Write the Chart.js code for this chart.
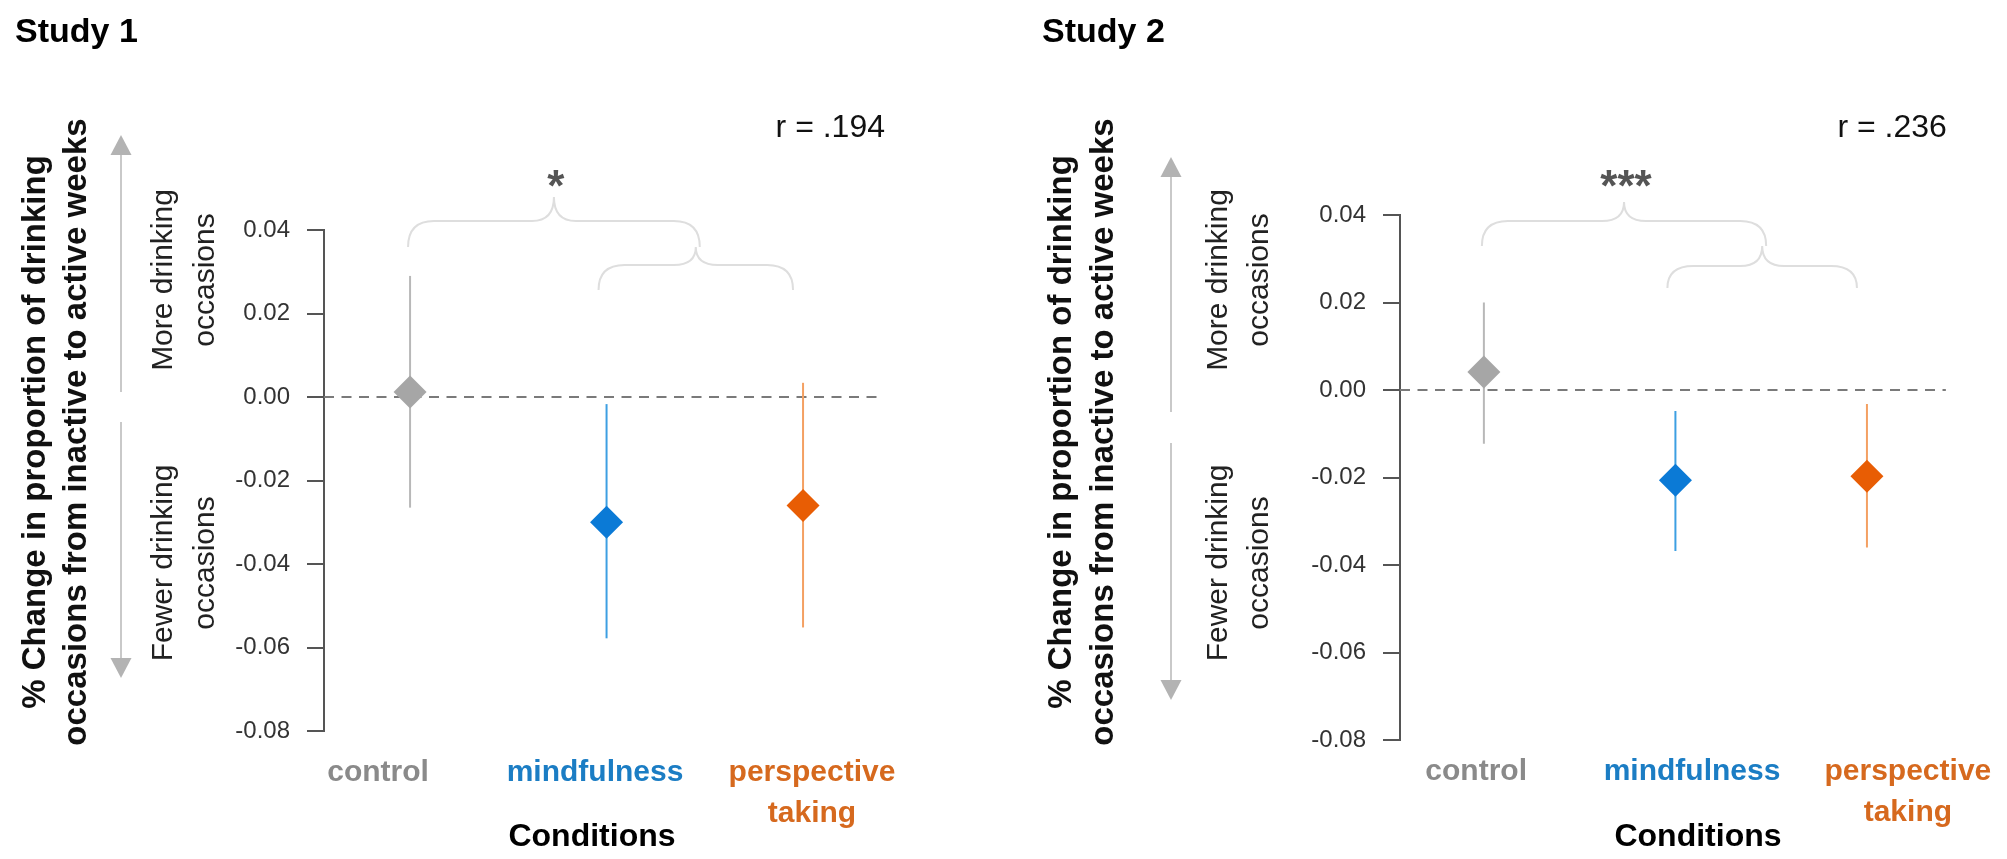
<!DOCTYPE html>
<html>
<head>
<meta charset="utf-8">
<script src="https://cdn.jsdelivr.net/npm/chart.js@4.4.1/dist/chart.umd.min.js"></script>
<style>
  html, body { margin: 0; padding: 0; background: #ffffff; }
  .wrap { position: absolute; top: 0; }
  canvas { display: block; }
</style>
</head>
<body>
<div class="wrap" style="left:0px"><canvas id="c1" width="1000" height="859"></canvas></div>
<div class="wrap" style="left:1000px"><canvas id="c2" width="1007" height="859"></canvas></div>
<script>
// ---------------- DATA ----------------
const categories = ['control', 'mindfulness', 'perspective taking'];
const categoryLines = [['control'], ['mindfulness'], ['perspective', 'taking']];
const studyTitles = ['Study 1', 'Study 2'];
const study1Mean = [0.0012, -0.0300, -0.0260];
const study1Low  = [-0.0265, -0.0578, -0.0552];
const study1High = [0.0290, -0.0017, 0.0034];
const study2Mean = [0.0041, -0.0206, -0.0197];
const study2Low  = [-0.0123, -0.0368, -0.0360];
const study2High = [0.0200, -0.0048, -0.0032];
const yTicks = [0.04, 0.02, 0.00, -0.02, -0.04, -0.06, -0.08];
const rLabels = ['r = .194', 'r = .236'];
const sigLabels = ['*', '***'];
const yTitleLines = ['% Change in proportion of drinking', 'occasions from inactive to active weeks'];
const moreLines = ['More drinking', 'occasions'];
const fewerLines = ['Fewer drinking', 'occasions'];
const xTitle = 'Conditions';

// ---------------- STYLE ----------------
const FONT = '"Liberation Sans", Arial, Helvetica, sans-serif';
const pointColors = ['#a6a6a6', '#0b7ad6', '#e85d04'];
const barColors = ['#b8b8b8', '#3d9fe2', '#f4a062'];
const labelColors = ['#8a8a8a', '#1b7dc4', '#d6691e'];

// panel layout (page coordinates)
const panels = [
  { ox: 0, w: 1000, left: 324, right: 884, top: 230, bottom: 731,
    lmin: 0.751, lmax: 3.332, lpad: 21.5,
    studyX: 15, titleX: [36, 77], titleY: 432, arrowX: 121, upTip: 135, upEnd: 392, downStart: 422, downTip: 678,
    sideX: [172, 214], condX: 592,
    brace: { bigH: 221, bigEnd: 247, bigPeak: 197, smH: 265, smEnd: 290 } },
  { ox: 1000, w: 1007, left: 1400, right: 1959, top: 215, bottom: 740,
    lmin: 0.647, lmax: 3.176, lpad: 11.5,
    studyX: 1042, titleX: [1062, 1104], titleY: 432, arrowX: 1171, upTip: 157, upEnd: 412, downStart: 443, downTip: 700,
    sideX: [1227, 1268], condX: 1698,
    brace: { bigH: 221, bigEnd: 246, bigPeak: 202, smH: 266, smEnd: 288 } }
];

function buildDatasets(mean, low, high) {
  const ds = [];
  ds.push({
    label: 'mean',
    data: mean.map((v, i) => ({ x: i + 1, y: v })),
    pointStyle: 'rectRot',
    pointRadius: 16.5,
    pointBackgroundColor: pointColors,
    pointBorderColor: pointColors,
    pointBorderWidth: 0,
    showLine: false
  });
  categories.forEach((c, i) => {
    ds.push({
      label: c + ' CI',
      data: [{ x: i + 1, y: low[i] }, { x: i + 1, y: high[i] }],
      showLine: true,
      borderColor: barColors[i],
      borderWidth: 2,
      pointRadius: 0
    });
  });
  return ds;
}

function arrow(ctx, x, y0, tip) {
  const dir = tip < y0 ? -1 : 1;
  ctx.save();
  ctx.strokeStyle = '#c9c9c9';
  ctx.lineWidth = 2;
  ctx.beginPath();
  ctx.moveTo(x, y0);
  ctx.lineTo(x, tip - dir * 18);
  ctx.stroke();
  ctx.fillStyle = '#b3b3b3';
  ctx.beginPath();
  ctx.moveTo(x, tip);
  ctx.lineTo(x - 10.5, tip - dir * 20);
  ctx.lineTo(x + 10.5, tip - dir * 20);
  ctx.closePath();
  ctx.fill();
  ctx.restore();
}

function brace(ctx, xL, xR, yH, yEnd, yPeak) {
  const r = 26, rp = 22;
  const xm = (xL + xR) / 2;
  ctx.beginPath();
  ctx.moveTo(xL, yEnd);
  ctx.quadraticCurveTo(xL, yH, xL + r, yH);
  ctx.lineTo(xm - rp, yH);
  ctx.quadraticCurveTo(xm, yH, xm, yPeak);
  ctx.quadraticCurveTo(xm, yH, xm + rp, yH);
  ctx.lineTo(xR - r, yH);
  ctx.quadraticCurveTo(xR, yH, xR, yEnd);
  ctx.stroke();
  return xm;
}

function rotatedLines(ctx, lines, xs, cy, font, color) {
  ctx.save();
  ctx.font = font;
  ctx.fillStyle = color;
  ctx.textAlign = 'center';
  lines.forEach((t, i) => {
    ctx.save();
    ctx.translate(xs[i], cy);
    ctx.rotate(-Math.PI / 2);
    ctx.fillText(t, 0, 0);
    ctx.restore();
  });
  ctx.restore();
}

function makeChart(canvasId, idx, mean, low, high) {
  const P = panels[idx];
  const ox = P.ox;
  const annot = {
    id: 'annot' + idx,
    beforeDatasetsDraw(chart) {
      const ctx = chart.ctx;
      const a = chart.chartArea;
      const y0 = chart.scales.y.getPixelForValue(0);
      ctx.save();
      ctx.strokeStyle = '#7a7a7a';
      ctx.lineWidth = 2;
      ctx.setLineDash([10, 7.5]);
      ctx.beginPath();
      ctx.moveTo(a.left, y0);
      ctx.lineTo(a.right, y0);
      ctx.stroke();
      ctx.restore();
    },
    afterDraw(chart) {
      const ctx = chart.ctx;
      const a = chart.chartArea;
      const xs = chart.scales.x;
      const px = [1, 2, 3].map(v => xs.getPixelForValue(v));
      // study title
      ctx.save();
      ctx.font = 'bold 34px ' + FONT;
      ctx.fillStyle = '#000';
      ctx.textBaseline = 'middle';
      ctx.textAlign = 'left';
      ctx.fillText(studyTitles[idx], P.studyX - ox, 33);
      ctx.restore();
      // y title (two lines, rotated)
      ctx.save();
      ctx.textBaseline = 'middle';
      rotatedLines(ctx, yTitleLines, P.titleX.map(v => v - ox), P.titleY, 'bold 33px ' + FONT, '#111');
      ctx.restore();
      // direction arrows
      arrow(ctx, P.arrowX - ox, P.upEnd, P.upTip);
      arrow(ctx, P.arrowX - ox, P.downStart, P.downTip);
      // side labels
      ctx.save();
      ctx.textBaseline = 'alphabetic';
      rotatedLines(ctx, moreLines, P.sideX.map(v => v - ox), 280, '30px ' + FONT, '#222');
      rotatedLines(ctx, fewerLines, P.sideX.map(v => v - ox), 563, '30px ' + FONT, '#222');
      ctx.restore();
      // braces
      const B = P.brace;
      ctx.save();
      ctx.strokeStyle = '#dedede';
      ctx.lineWidth = 2;
      const bigR = (px[1] + px[2]) / 2 - 5;
      const xm = brace(ctx, px[0] - 2, bigR, B.bigH, B.bigEnd, B.bigPeak);
      brace(ctx, px[1] - 8, px[2] - 10, B.smH, B.smEnd, B.bigEnd);
      ctx.restore();
      // significance
      ctx.save();
      ctx.font = 'bold 44px ' + FONT;
      ctx.fillStyle = '#555';
      ctx.textAlign = 'center';
      ctx.textBaseline = 'alphabetic';
      ctx.fillText(sigLabels[idx], xm + 2, 201);
      ctx.restore();
      // r label
      ctx.save();
      ctx.font = '32px ' + FONT;
      ctx.fillStyle = '#111';
      ctx.textAlign = 'right';
      ctx.textBaseline = 'middle';
      ctx.fillText(rLabels[idx], a.right + 1, 128);
      ctx.restore();
      // x title
      ctx.save();
      ctx.font = 'bold 32px ' + FONT;
      ctx.fillStyle = '#000';
      ctx.textAlign = 'center';
      ctx.textBaseline = 'middle';
      ctx.fillText(xTitle, P.condX - ox, 837);
      ctx.restore();
    }
  };

  return new Chart(document.getElementById(canvasId), {
    type: 'scatter',
    data: { datasets: buildDatasets(mean, low, high) },
    options: {
      responsive: false,
      animation: false,
      devicePixelRatio: 1,
      layout: { padding: { left: 0, top: P.top, right: (P.w + ox) - P.right, bottom: 0 } },
      plugins: { legend: { display: false }, tooltip: { enabled: false } },
      scales: {
        x: { type: 'linear', display: false, min: 0.562, max: 3.412 },
        x2: {
          type: 'linear', position: 'bottom', min: P.lmin, max: P.lmax,
          afterBuildTicks: s => { s.ticks = [1, 2, 3].map(v => ({ value: v })); },
          afterFit: s => { s.height = 859 - P.bottom; },
          grid: { display: false, drawTicks: false },
          border: { display: false },
          ticks: {
            autoSkip: false, maxRotation: 0, minRotation: 0, padding: P.lpad,
            font: { family: FONT, size: 30, weight: 'bold', lineHeight: 1.37 },
            color: c => labelColors[c.index],
            callback: (v) => categoryLines[Math.round(v) - 1]
          }
        },
        y: {
          type: 'linear', min: -0.08, max: 0.04,
          afterBuildTicks: s => { s.ticks = yTicks.map(v => ({ value: v })); },
          afterFit: s => { s.width = P.left - ox; },
          grid: { drawOnChartArea: false, drawTicks: true, tickLength: 17, color: '#555', lineWidth: 2 },
          border: { display: true, color: '#555', width: 2 },
          ticks: {
            padding: 17, color: '#333',
            font: { family: FONT, size: 24 },
            callback: v => v.toFixed(2)
          }
        }
      }
    },
    plugins: [annot]
  });
}

makeChart('c1', 0, study1Mean, study1Low, study1High);
makeChart('c2', 1, study2Mean, study2Low, study2High);
</script>
</body>
</html>
